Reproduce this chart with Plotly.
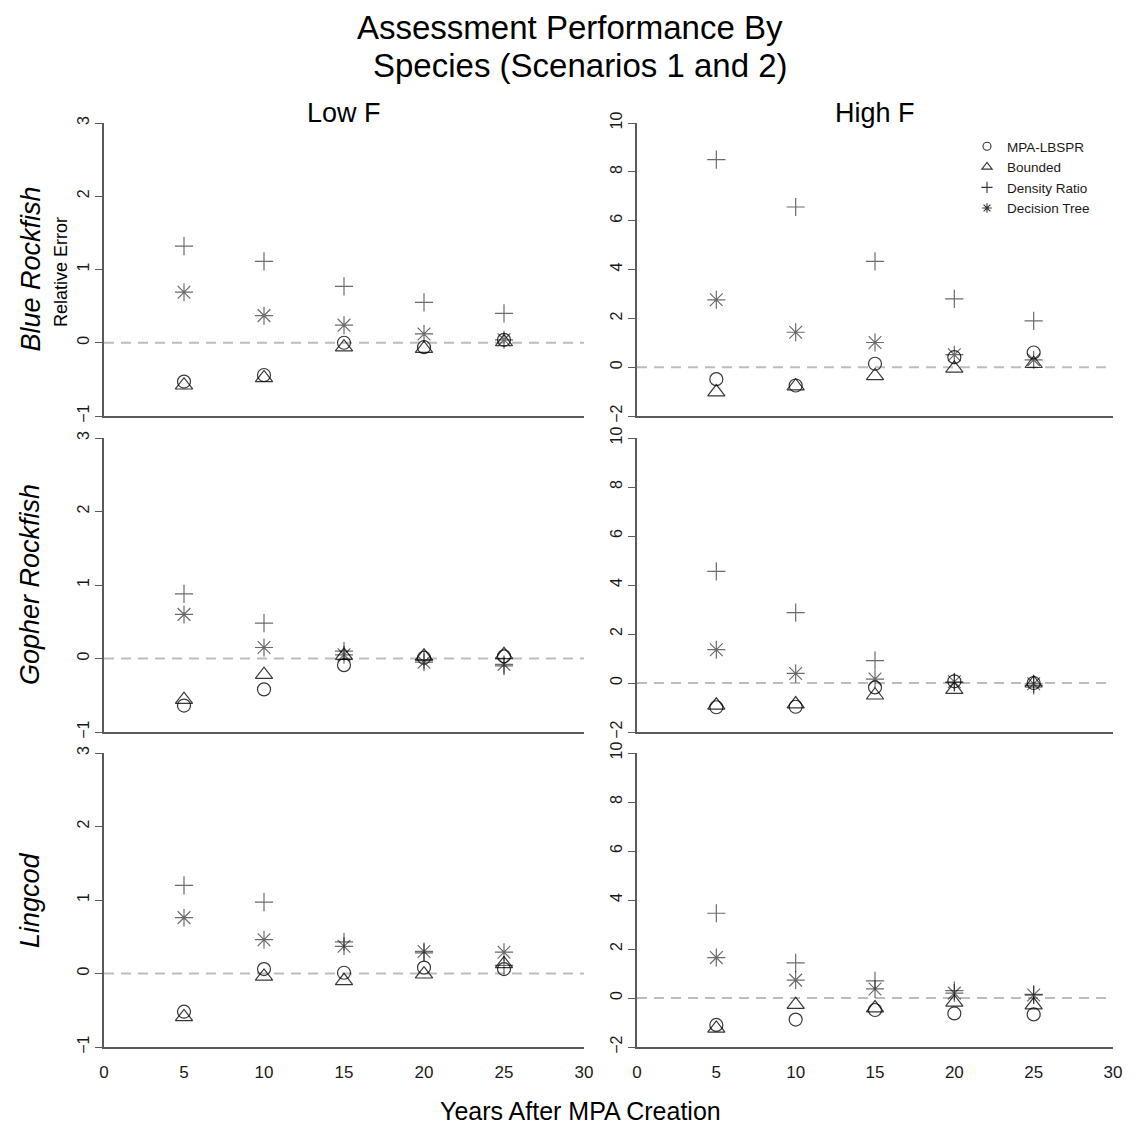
import plotly.graph_objects as go

# ---------------- data ----------------
YEARS = [5, 10, 15, 20, 25]
SPECIES = ["Blue Rockfish", "Gopher Rockfish", "Lingcod"]
F_LEVELS = ["Low F", "High F"]
METHODS = ["MPA-LBSPR", "Bounded", "Density Ratio", "Decision Tree"]

# Blue Rockfish
blue_low_mpa = [-0.53, -0.44, 0.00, -0.06, 0.04]
blue_low_bounded = [-0.58, -0.48, -0.06, -0.08, 0.01]
blue_low_density = [1.32, 1.11, 0.77, 0.55, 0.40]
blue_low_tree = [0.69, 0.37, 0.24, 0.12, 0.04]

blue_high_mpa = [-0.49, -0.75, 0.14, 0.41, 0.60]
blue_high_bounded = [-1.02, -0.78, -0.36, -0.05, 0.14]
blue_high_density = [8.50, 6.56, 4.33, 2.80, 1.90]
blue_high_tree = [2.76, 1.43, 1.01, 0.51, 0.30]

# Gopher Rockfish
gopher_low_mpa = [-0.64, -0.42, -0.09, 0.01, 0.03]
gopher_low_bounded = [-0.56, -0.22, 0.04, 0.03, 0.05]
gopher_low_density = [0.88, 0.48, 0.10, -0.02, -0.10]
gopher_low_tree = [0.60, 0.15, 0.05, -0.05, -0.08]

gopher_high_mpa = [-0.99, -0.97, -0.18, 0.07, 0.00]
gopher_high_bounded = [-0.91, -0.86, -0.50, -0.27, -0.01]
gopher_high_density = [4.56, 2.87, 0.91, 0.02, -0.10]
gopher_high_tree = [1.36, 0.39, 0.16, 0.05, -0.03]

# Lingcod
ling_low_mpa = [-0.52, 0.06, 0.01, 0.08, 0.06]
ling_low_bounded = [-0.59, -0.04, -0.10, -0.01, 0.13]
ling_low_density = [1.20, 0.97, 0.43, 0.28, 0.11]
ling_low_tree = [0.76, 0.46, 0.37, 0.30, 0.29]

ling_high_mpa = [-1.10, -0.88, -0.49, -0.63, -0.67]
ling_high_bounded = [-1.24, -0.27, -0.41, -0.18, -0.29]
ling_high_density = [3.46, 1.43, 0.70, 0.30, 0.15]
ling_high_tree = [1.65, 0.73, 0.37, 0.20, 0.12]

X_TICKS = [0, 5, 10, 15, 20, 25, 30]
LOW_TICKS = [-1, 0, 1, 2, 3]
HIGH_TICKS = [-2, 0, 2, 4, 6, 8, 10]
ZERO_LINE = 0

PANELS = {
    ("Blue Rockfish", "Low F"): [blue_low_mpa, blue_low_bounded, blue_low_density, blue_low_tree],
    ("Blue Rockfish", "High F"): [blue_high_mpa, blue_high_bounded, blue_high_density, blue_high_tree],
    ("Gopher Rockfish", "Low F"): [gopher_low_mpa, gopher_low_bounded, gopher_low_density, gopher_low_tree],
    ("Gopher Rockfish", "High F"): [gopher_high_mpa, gopher_high_bounded, gopher_high_density, gopher_high_tree],
    ("Lingcod", "Low F"): [ling_low_mpa, ling_low_bounded, ling_low_density, ling_low_tree],
    ("Lingcod", "High F"): [ling_high_mpa, ling_high_bounded, ling_high_density, ling_high_tree],
}

# ---------------- styling ----------------
OFF = 8  # page body margin: the figure is drawn 8px from the window corner
W, H = 1139 - OFF, 1127 - OFF
FONT = "Liberation Sans, Arial, Helvetica, sans-serif"
AXIS_COLOR = "#5a5a5a"
TEXT_COLOR = "#1a1a1a"

STYLE = {
    "MPA-LBSPR": dict(symbol="circle-open", size=13, color="rgba(0,0,0,0.78)"),
    "Bounded": dict(symbol="triangle-up-open", size=15, color="rgba(0,0,0,0.78)"),
    "Density Ratio": dict(symbol="cross-thin-open", size=13, color="rgba(0,0,0,0.58)"),
    "Decision Tree": dict(symbol="asterisk-open", size=15, color="rgba(0,0,0,0.58)"),
}

# layout positions in window pixels
col_px = [(104, 584), (637, 1113)]
row_px = [(123, 416), (438, 732), (753, 1047)]


def px(x):
    return (x - OFF) / W


def py(y):
    return 1 - (y - OFF) / H


def xdom(c):
    a, b = col_px[c]
    return [px(a), px(b)]


def ydom(r):
    a, b = row_px[r]
    return [py(b), py(a)]


fig = go.Figure()
layout = dict(
    width=W, height=H,
    margin=dict(l=0, r=0, t=0, b=0, pad=0, autoexpand=False),
    paper_bgcolor="white", plot_bgcolor="white",
    font=dict(family=FONT, color=TEXT_COLOR),
    showlegend=True,
)

shapes = []
for r, sp in enumerate(SPECIES):
    for c, fl in enumerate(F_LEVELS):
        idx = r * 2 + c + 1
        xa = "x" if idx == 1 else f"x{idx}"
        ya = "y" if idx == 1 else f"y{idx}"
        xkey = "xaxis" if idx == 1 else f"xaxis{idx}"
        ykey = "yaxis" if idx == 1 else f"yaxis{idx}"
        series = PANELS[(sp, fl)]
        for m, vals in zip(METHODS, series):
            st = STYLE[m]
            fig.add_trace(go.Scatter(
                x=YEARS, y=vals, mode="markers", name=m, showlegend=False,
                xaxis=xa, yaxis=ya, hoverinfo="x+y+name",
                marker=dict(symbol=st["symbol"], size=st["size"], color=st["color"],
                            line=dict(width=1.2, color=st["color"])),
            ))
        ticks_y = LOW_TICKS if c == 0 else HIGH_TICKS
        bottom = r == len(SPECIES) - 1
        layout[xkey] = dict(
            domain=xdom(c), anchor=ya, range=[X_TICKS[0], X_TICKS[-1]],
            showline=True, linecolor=AXIS_COLOR, linewidth=1.6,
            showgrid=False, zeroline=False, automargin=False,
            tickvals=X_TICKS, showticklabels=bottom,
            ticks="", ticklabelstandoff=9,
            tickfont=dict(size=17, color=TEXT_COLOR, family=FONT),
            fixedrange=True,
        )
        layout[ykey] = dict(
            domain=ydom(r), anchor=xa, range=[ticks_y[0], ticks_y[-1]],
            showline=True, linecolor=AXIS_COLOR, linewidth=1.6,
            showgrid=False, zeroline=False, automargin=False,
            tickvals=ticks_y, ticks="outside", ticklen=7, tickwidth=1.4,
            tickcolor=AXIS_COLOR, tickangle=-90,
            tickfont=dict(size=16, color=TEXT_COLOR, family=FONT),
            fixedrange=True,
        )
        shapes.append(dict(
            type="line", xref=f"{xa} domain", yref=ya,
            x0=0, x1=1, y0=ZERO_LINE, y1=ZERO_LINE,
            line=dict(color="#bdbdbd", width=2, dash="10px,7px"), layer="below",
        ))

# legend-only entries (small symbols as in the reference)
for m in METHODS:
    st = STYLE[m]
    fig.add_trace(go.Scatter(
        x=[None], y=[None], mode="markers", name=m, xaxis="x2", yaxis="y2",
        marker=dict(symbol=st["symbol"], size=8 if m != "Bounded" else 9,
                    color="rgba(0,0,0,0.8)", line=dict(width=1.1, color="rgba(0,0,0,0.8)")),
    ))

layout["legend"] = dict(
    x=px(967), y=py(131), xanchor="left", yanchor="top",
    bgcolor="rgba(0,0,0,0)", borderwidth=0,
    font=dict(size=13.5, color=TEXT_COLOR, family=FONT),
    itemwidth=30, tracegroupgap=0, itemclick=False, itemdoubleclick=False,
)
layout["shapes"] = shapes

ann = []
# title
ann.append(dict(text="Assessment Performance By", x=px(570), y=1,
                xref="paper", yref="paper", showarrow=False, xanchor="center", yanchor="top",
                borderpad=0, font=dict(size=33, color="black", family=FONT)))
ann.append(dict(text="Species (Scenarios 1 and 2)", x=px(580), y=py(66),
                xref="paper", yref="paper", showarrow=False, xanchor="center", yanchor="middle",
                font=dict(size=33, color="black", family=FONT)))
# column titles
for c, fl in enumerate(F_LEVELS):
    a, b = col_px[c]
    ann.append(dict(text=fl, x=px((a + b) / 2), y=py(113), xref="paper", yref="paper",
                    showarrow=False, xanchor="center", yanchor="middle",
                    font=dict(size=27, color="black", family=FONT)))
# row labels
for r, sp in enumerate(SPECIES):
    a, b = row_px[r]
    ann.append(dict(text=f"<i>{sp}</i>", x=px(30), y=py((a + b) / 2), xref="paper", yref="paper",
                    showarrow=False, xanchor="center", yanchor="middle", textangle=-90,
                    font=dict(size=27, color="black", family=FONT)))
# y-axis title (top row only)
ann.append(dict(text="Relative Error", x=px(61), y=py(272), xref="paper", yref="paper",
                showarrow=False, xanchor="center", yanchor="middle", textangle=-90,
                font=dict(size=18, color="black", family=FONT)))
# x-axis title
ann.append(dict(text="Years After MPA Creation", x=px(580), y=py(1111), xref="paper", yref="paper",
                showarrow=False, xanchor="center", yanchor="middle",
                font=dict(size=25, color="black", family=FONT)))
layout["annotations"] = ann

fig.update_layout(**layout)
fig.write_html("out.html", config={"displayModeBar": False})
